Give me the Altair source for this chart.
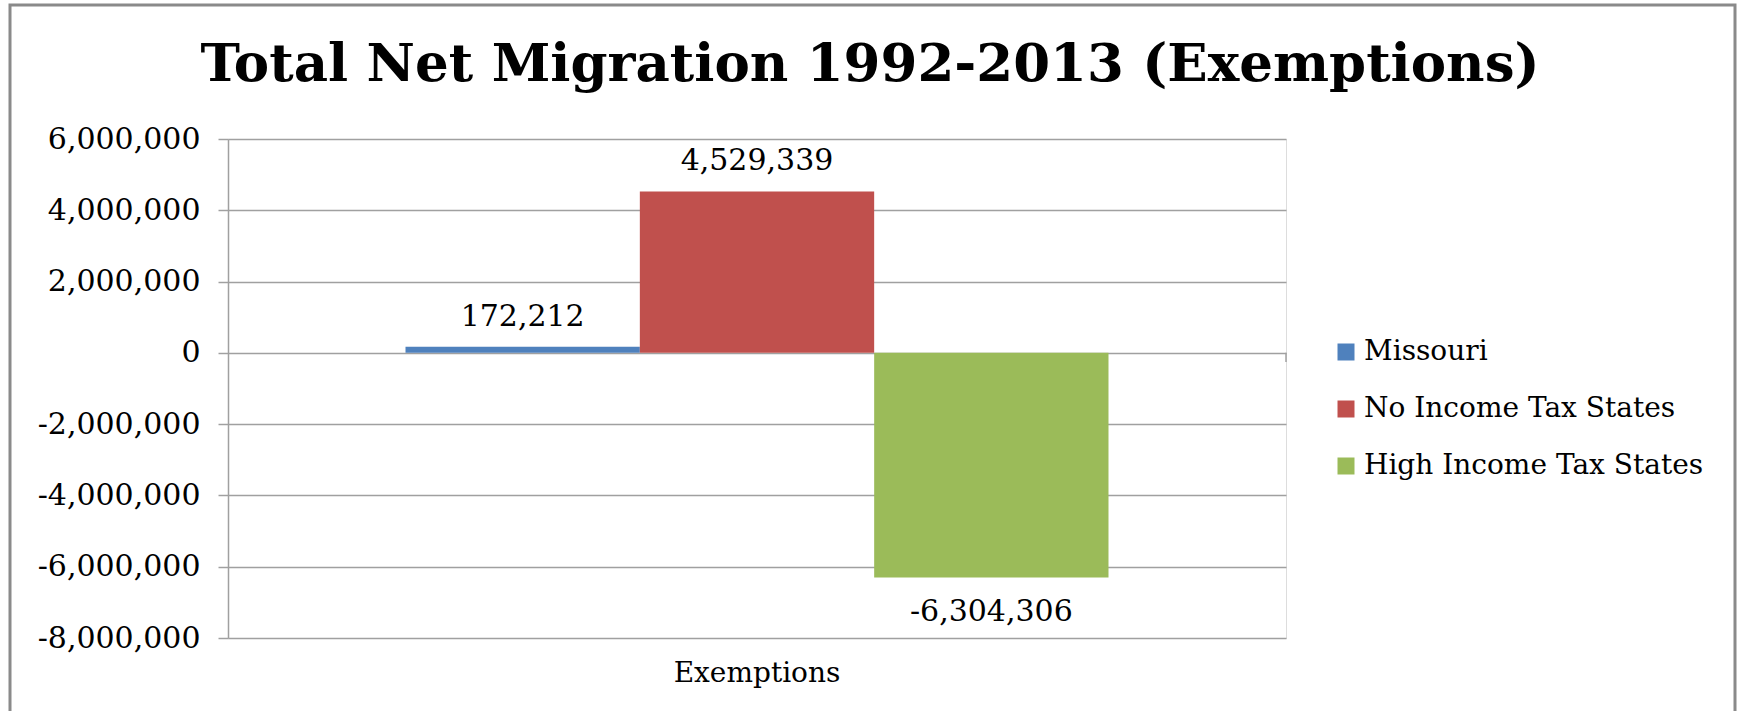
import altair as alt
import pandas as pd

# ---- data ----
categories = ["Exemptions", "Exemptions", "Exemptions"]
series = ["Missouri", "No Income Tax States", "High Income Tax States"]
values = [172212, 4529339, -6304306]
colors = ["#4F81BD", "#C0504D", "#9BBB59"]
y_ticks = [-8000000, -6000000, -4000000, -2000000, 0, 2000000, 4000000, 6000000]
title_text = "Total Net Migration 1992-2013 (Exemptions)"

df = pd.DataFrame({"category": categories, "series": series, "value": values})
df["label"] = [f"{v:,}" for v in values]

FONT = "DejaVu Serif"
W, H = 1058, 499
GRID = "#a0a0a0"

x_enc = alt.X(
    "category:N",
    title=None,
    scale=alt.Scale(paddingInner=0, paddingOuter=0.2525),
    axis=alt.Axis(labelFont=FONT, labelFontSize=28, labelColor="black", labelAngle=0,
                  labelPadding=21, ticks=False, domain=False),
)
xoff = alt.XOffset("series:N", sort=series, scale=alt.Scale(paddingInner=0, paddingOuter=0))
y_enc = alt.Y(
    "value:Q",
    title=None,
    scale=alt.Scale(domain=[-8000000, 6000000], nice=False, zero=False),
    axis=alt.Axis(values=y_ticks, labelExpr="replace(format(datum.value, ','), '\u2212', '-')",
                  labelFont=FONT, labelFontSize=30, labelColor="black", labelPadding=18,
                  tickSize=10, tickColor=GRID, tickWidth=1.5,
                  domainColor=GRID, domainWidth=1.5,
                  grid=True, gridColor=GRID, gridWidth=1.5),
)
color_enc = alt.Color(
    "series:N",
    sort=series,
    scale=alt.Scale(domain=series, range=colors),
    legend=alt.Legend(orient="none", legendX=1104, legendY=199, title=None,
                      symbolType="square", symbolSize=289, symbolStrokeWidth=0,
                      labelFont=FONT, labelFontSize=28, labelColor="black",
                      labelOffset=4, rowPadding=29, padding=0, labelLimit=1000),
)

base = alt.Chart(df)

bars = base.mark_bar().encode(x=x_enc, xOffset=xoff, y=y_enc, color=color_enc)

pos_labels = base.transform_filter("datum.value >= 0").mark_text(
    font=FONT, fontSize=30, baseline="alphabetic", dy=-21, color="black"
).encode(x=x_enc, xOffset=xoff, y=y_enc, text="label:N")

neg_labels = base.transform_filter("datum.value < 0").mark_text(
    font=FONT, fontSize=30, baseline="alphabetic", dy=43, color="black"
).encode(x=x_enc, xOffset=xoff, y=y_enc, text="label:N")

end_tick = base.transform_filter("datum.series == 'Missouri'").mark_rule(
    color=GRID, strokeWidth=1.5
).encode(x=alt.value(W), y=alt.datum(0), y2=alt.value(223))

frame = alt.Chart(pd.DataFrame({"f": [0]})).mark_rect(
    filled=False, stroke="#8a8a8a", strokeWidth=3
).encode(x=alt.value(-218), x2=alt.value(1507), y=alt.value(-134), y2=alt.value(600))

chart = alt.layer(frame, bars, pos_labels, neg_labels, end_tick).properties(
    width=W,
    height=H,
    title=alt.TitleParams(title_text, font=FONT, fontSize=53, fontWeight="bold",
                          color="black", anchor="middle", frame="group", dx=113,
                          baseline="alphabetic", offset=-130),
    padding={"left": 228, "top": 139, "right": 451, "bottom": 73},
    autosize=alt.AutoSizeParams(type="none"),
).configure_view(stroke=None).configure(background="white")

chart.save("out.html", embed_options={"renderer": "svg", "actions": False})
